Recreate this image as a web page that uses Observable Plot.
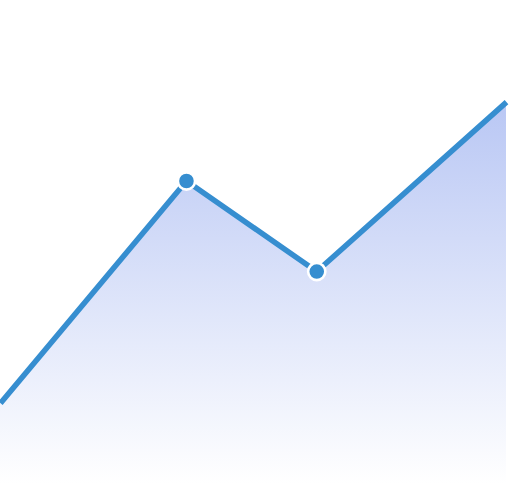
<!DOCTYPE html>
<html><head><meta charset="utf-8">
<script src="https://cdn.jsdelivr.net/npm/d3@7"></script>
<script src="https://cdn.jsdelivr.net/npm/@observablehq/plot@0.6"></script>
<style>html,body{margin:0;padding:0;background:#fff;overflow:hidden}</style>
</head><body>
<div id="chart"></div>
<script>
const xs = [0, 2.94, 5, 8];
const values = [16.8, 62.7, 44, 79];
const markedIndex = [1, 2];

const data = xs.map((x, i) => ({x, y: values[i], marked: markedIndex.includes(i)}));

const chart = Plot.plot({
  width: 512,
  height: 484,
  marginTop: 0, marginBottom: 0, marginLeft: 0, marginRight: 6,
  x: {domain: [0, 8], axis: null},
  y: {domain: [0, 100], axis: null},
  marks: [
    Plot.areaY(data, {x: "x", y: "y", fill: "url(#areaGrad)"}),
    Plot.lineY(data, {x: "x", y: "y", stroke: "#368ed0", strokeWidth: 5.5, strokeLinejoin: "miter", strokeLinecap: "butt"}),
    Plot.dot(data.filter(d => d.marked), {x: "x", y: "y", r: 8.6, fill: "#368ed0", stroke: "#fff", strokeWidth: 2.6})
  ]
});
const svg = d3.select(chart);
const defs = svg.insert("defs", ":first-child");
const g = defs.append("linearGradient").attr("id", "areaGrad").attr("x1", 0).attr("y1", 0).attr("x2", 0).attr("y2", 1);
g.append("stop").attr("offset", "0%").attr("stop-color", "#b9c7f4");
g.append("stop").attr("offset", "100%").attr("stop-color", "#ffffff");
document.getElementById("chart").appendChild(chart);
</script>
</body></html>
